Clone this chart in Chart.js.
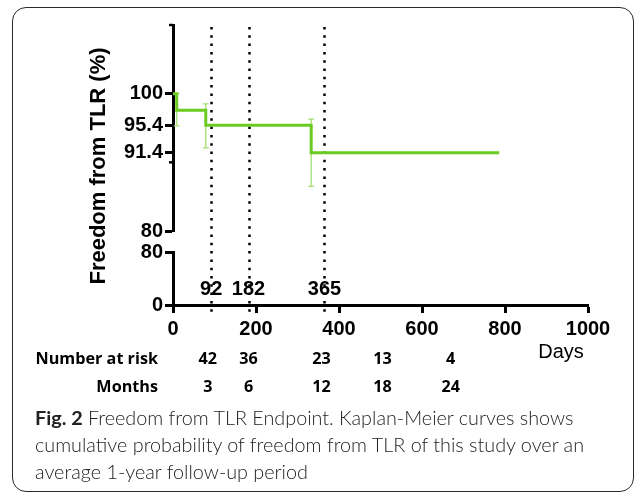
<!DOCTYPE html>
<html>
<head>
<meta charset="utf-8">
<script src="https://cdn.jsdelivr.net/npm/chart.js@4.4.1/dist/chart.umd.min.js"></script>
<style>
  html, body { margin: 0; padding: 0; background: #fff; }
  #wrap { position: relative; width: 634px; height: 492px; overflow: hidden; }
  #kmChart { position: absolute; left: 0; top: 0; }
  #frame {
    position: absolute; left: 12px; top: 7px; width: 622px; height: 485px;
    border: 1.5px solid #2a2a2a; border-radius: 14px; box-sizing: border-box;
  }
  #caption {
    position: absolute; left: 35px; top: 404px; width: 595px;
    font-family: Lato, 'Open Sans', sans-serif; font-weight: 300;
    font-size: 19.8px; line-height: 27px; color: #222;
  }
  #caption b { font-weight: 700; }
</style>
</head>
<body>
<div id="wrap">
  <canvas id="kmChart" width="634" height="492"></canvas>
  <div id="frame"></div>
  <div id="caption"><b>Fig. 2</b> Freedom from TLR Endpoint. Kaplan-Meier curves shows cumulative probability of freedom from TLR of this study over an average 1-year follow-up period</div>
</div>
<script>
// Kaplan-Meier curve
const kmDays = [0, 9, 79, 333, 786];
const kmSurv = [100, 97.6, 95.4, 91.4, 91.4];

// confidence bars at the events
const errDays = [9, 79, 333];
const errHi = [100, 98.5, 96.3];
const errLo = [95.3, 92.1, 86.5];

// dotted reference lines
const markDays = [92, 182, 365];

// number at risk table
const riskAt = [84, 182, 358, 505, 669];
const riskCounts = [42, 36, 23, 13, 4];
const riskMonths = [3, 6, 12, 18, 24];

// axis ticks
const xTicks = [0, 200, 400, 600, 800, 1000];
const yTopTicks = [80, 91.4, 95.4, 100];
const yTopMinor = [90, 110];
const yBottomTicks = [0, 80];

const AXIS_FONT = { family: "'Liberation Sans', Arial, sans-serif", size: 20, weight: 'bold' };
const GREEN = '#6ccb22';
const GREEN_LIGHT = '#a3de72';

const tickGrid = {
  display: true,
  drawOnChartArea: false,
  drawTicks: true,
  tickLength: 8,
  tickWidth: 3,
  tickColor: '#000',
};

const extras = {
  id: 'extras',
  beforeDatasetsDraw(chart) {
    const { ctx, chartArea } = chart;
    const x = chart.scales.x;
    ctx.save();
    ctx.strokeStyle = '#000';
    ctx.lineWidth = 2.5;
    ctx.setLineDash([2.5, 5.8]);
    for (const d of markDays) {
      const px = Math.round(x.getPixelForValue(d)) + 0.5;
      ctx.beginPath();
      ctx.moveTo(px, chartArea.top + 2);
      ctx.lineTo(px, chartArea.bottom + 7);
      ctx.stroke();
    }
    ctx.restore();

    // error bars
    const y = chart.scales.yTop;
    ctx.save();
    ctx.strokeStyle = GREEN_LIGHT;
    ctx.lineWidth = 1.3;
    errDays.forEach((d, i) => {
      const px = x.getPixelForValue(d);
      const top = y.getPixelForValue(errHi[i]);
      const bot = y.getPixelForValue(errLo[i]);
      ctx.beginPath();
      ctx.moveTo(px, top); ctx.lineTo(px, bot);
      ctx.moveTo(px - 3, top); ctx.lineTo(px + 3, top);
      ctx.moveTo(px - 3, bot); ctx.lineTo(px + 3, bot);
      ctx.stroke();
    });
    ctx.restore();
  },
  afterDraw(chart) {
    const { ctx, chartArea } = chart;
    const x = chart.scales.x;
    const y = chart.scales.yTop;
    ctx.save();

    // minor ticks on the top segment
    ctx.strokeStyle = '#000';
    ctx.lineWidth = 2.5;
    for (const v of yTopMinor) {
      const py = y.getPixelForValue(v);
      ctx.beginPath();
      ctx.moveTo(chartArea.left - 4, py);
      ctx.lineTo(chartArea.left, py);
      ctx.stroke();
    }

    // labels on the dotted lines
    ctx.fillStyle = '#000';
    ctx.font = "bold 20px 'Liberation Sans', Arial, sans-serif";
    ctx.textAlign = 'center';
    ctx.textBaseline = 'middle';
    for (const d of markDays) {
      ctx.fillText(String(d), x.getPixelForValue(d), 289);
    }

    // y title
    ctx.save();
    ctx.translate(99, 166);
    ctx.rotate(-Math.PI / 2);
    ctx.font = "bold 22px 'Liberation Sans', Arial, sans-serif";
    ctx.fillText('Freedom from TLR (%)', 0, 0);
    ctx.restore();

    // Days
    ctx.font = "20px 'Liberation Sans', Arial, sans-serif";
    ctx.fillText('Days', 561, 352);

    // number at risk table
    ctx.font = "bold 16.2px 'Open Sans', sans-serif";
    ctx.textAlign = 'right';
    ctx.fillText('Number at risk', 158, 359);
    ctx.fillText('Months', 158, 387);
    ctx.textAlign = 'center';
    riskAt.forEach((d, i) => {
      const px = x.getPixelForValue(d);
      ctx.fillText(String(riskCounts[i]), px, 359);
      ctx.fillText(String(riskMonths[i]), px, 387);
    });
    ctx.restore();
  },
};

new Chart(document.getElementById('kmChart'), {
  type: 'line',
  data: {
    datasets: [{
      data: kmDays.map((d, i) => ({ x: d, y: kmSurv[i] })),
      yAxisID: 'yTop',
      stepped: true,
      borderColor: GREEN,
      borderWidth: 3,
      pointRadius: 0,
      fill: false,
    }],
  },
  options: {
    responsive: false,
    animation: false,
    events: [],
    layout: { padding: { left: 0, right: 46, top: 25, bottom: 147 } },
    plugins: { legend: { display: false }, tooltip: { enabled: false } },
    scales: {
      x: {
        type: 'linear',
        min: 0,
        max: 1000,
        afterBuildTicks: (s) => { s.ticks = xTicks.map((v) => ({ value: v })); },
        afterFit: (s) => { s.height = 40; },
        border: { display: true, color: '#000', width: 3 },
        grid: tickGrid,
        ticks: {
          color: '#000', font: AXIS_FONT, padding: 4, maxRotation: 0, autoSkip: false,
          callback: (v) => String(v),
        },
      },
      yBottom: {
        type: 'linear',
        position: 'left',
        stack: 'broken',
        stackWeight: 53,
        min: 0,
        max: 80,
        afterBuildTicks: (s) => { s.ticks = yBottomTicks.map((v) => ({ value: v })); },
        afterFit: (s) => { s.width = 173; },
        border: { display: true, color: '#000', width: 3 },
        grid: tickGrid,
        ticks: { color: '#000', font: AXIS_FONT, padding: 2, autoSkip: false },
      },
      yGap: {
        type: 'linear',
        position: 'left',
        stack: 'broken',
        stackWeight: 21,
        min: 0,
        max: 1,
        afterFit: (s) => { s.width = 173; },
        border: { display: false },
        grid: { display: false },
        ticks: { display: false },
      },
      yTop: {
        type: 'linear',
        position: 'left',
        stack: 'broken',
        stackWeight: 206,
        min: 80,
        max: 110,
        afterBuildTicks: (s) => { s.ticks = yTopTicks.map((v) => ({ value: v })); },
        afterFit: (s) => { s.width = 173; },
        border: { display: true, color: '#000', width: 3 },
        grid: tickGrid,
        ticks: { color: '#000', font: AXIS_FONT, padding: 2, autoSkip: false },
      },
    },
  },
  plugins: [extras],
});
</script>
</body>
</html>
